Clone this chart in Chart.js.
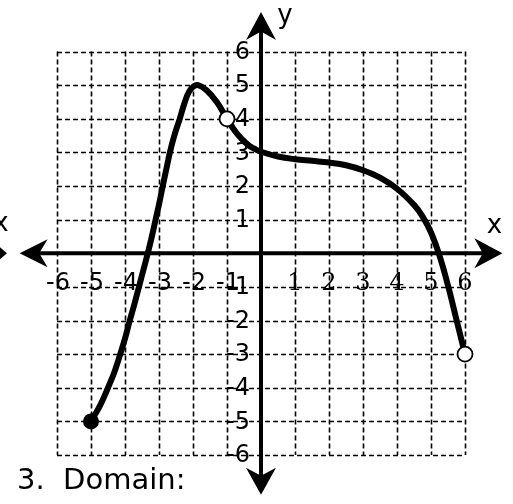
<!DOCTYPE html>
<html>
<head>
<meta charset="utf-8">
<script src="https://cdn.jsdelivr.net/npm/chart.js@4.4.0/dist/chart.umd.min.js"></script>
<style>
  html, body { margin: 0; padding: 0; background: #fff; }
  #graph { display: block; }
</style>
</head>
<body>
<canvas id="graph" width="513" height="504"></canvas>
<script>
// Values
const gridValues = [-6, -5, -4, -3, -2, -1, 0, 1, 2, 3, 4, 5, 6];
const xTickLabels = [-6, -5, -4, -3, -2, -1, 1, 2, 3, 4, 5, 6];
const yTickLabels = [-6, -5, -4, -3, -2, -1, 1, 2, 3, 4, 5, 6];

const curveX = [-5, -4.72, -4.5, -4.3, -4.14, -3.99, -3.86, -3.72, -3.59, -3.46, -3.33, -3.21, -3.1, -2.99,
    -2.89, -2.785, -2.68, -2.55, -2.39, -2.24, -2.12, -2.0, -1.85, -1.6, -1.3, -1.0, -0.7, -0.4, -0.2,
    0, 0.5, 1, 1.5, 2, 2.5, 3, 3.5, 4, 4.5, 4.75, 5, 5.25, 5.5, 5.75, 6];
const curveY = [-5, -4.5, -4, -3.5, -3, -2.5, -2, -1.5, -1, -0.5, 0, 0.5, 1, 1.5,
    2, 2.5, 3, 3.5, 4, 4.5, 4.8, 4.95, 5.0, 4.85, 4.5, 4.0, 3.55, 3.24, 3.11,
    3.02, 2.88, 2.8, 2.75, 2.7, 2.62, 2.47, 2.25, 1.92, 1.44, 1.1, 0.62, -0.07, -0.96, -1.98, -3];

const closedX = [-5];
const closedY = [-5];
const openX = [-1, 6];
const openY = [4, -3];

// axis extents (arrow tips)
const xRange = [-7.1, 7.1];
const yRange = [-7.18, 7.18];

const toPoints = (xs, ys) => xs.map((x, i) => ({ x: x, y: ys[i] }));

function arrowHead(ctx, tipX, tipY, dirX, dirY, len, half) {
    const px = -dirY, py = dirX;
    const bx = tipX - dirX * len, by = tipY - dirY * len;
    const nx = tipX - dirX * len * 0.7, ny = tipY - dirY * len * 0.7;
    ctx.beginPath();
    ctx.moveTo(tipX, tipY);
    ctx.lineTo(bx + px * half, by + py * half);
    ctx.lineTo(nx, ny);
    ctx.lineTo(bx - px * half, by - py * half);
    ctx.closePath();
    ctx.fill();
}

// Dashed grid, axes with arrows, tick labels
const gridPlugin = {
    id: "graphPaper",
    beforeDatasetsDraw(chart) {
        const ctx = chart.ctx;
        const xs = chart.scales.x, ys = chart.scales.y;
        const gMin = gridValues[0], gMax = gridValues[gridValues.length - 1];

        ctx.save();
        ctx.strokeStyle = "#000";
        ctx.lineWidth = 1.6;
        ctx.setLineDash([5, 3]);
        for (const v of gridValues) {
            const px = Math.round(xs.getPixelForValue(v)) + 0.5;
            ctx.beginPath();
            ctx.moveTo(px, ys.getPixelForValue(gMax));
            ctx.lineTo(px, ys.getPixelForValue(gMin));
            ctx.stroke();
            const py = Math.round(ys.getPixelForValue(v)) + 0.5;
            ctx.beginPath();
            ctx.moveTo(xs.getPixelForValue(gMin), py);
            ctx.lineTo(xs.getPixelForValue(gMax), py);
            ctx.stroke();
        }
        ctx.setLineDash([]);

        // axes
        const x0 = xs.getPixelForValue(0), y0 = ys.getPixelForValue(0);
        const left = xs.getPixelForValue(xRange[0]), right = xs.getPixelForValue(xRange[1]);
        const top = ys.getPixelForValue(yRange[1]), bottom = ys.getPixelForValue(yRange[0]);
        ctx.lineWidth = 4;
        ctx.beginPath();
        ctx.moveTo(left + 12, y0);
        ctx.lineTo(right - 12, y0);
        ctx.moveTo(x0, top + 12);
        ctx.lineTo(x0, bottom - 12);
        ctx.stroke();
        ctx.fillStyle = "#000";
        arrowHead(ctx, left, y0, -1, 0, 28, 14);
        arrowHead(ctx, right, y0, 1, 0, 28, 15);
        arrowHead(ctx, x0, top, 0, -1, 28, 15);
        arrowHead(ctx, x0, bottom, 0, 1, 27, 15);

        // tick labels
        ctx.textBaseline = "middle";
        ctx.textAlign = "center";
        for (const v of xTickLabels) {
            ctx.font = v > 0 ? "24px 'DejaVu Serif'" : "24px 'DejaVu Sans'";
            ctx.fillText(String(v), xs.getPixelForValue(v) + (v < 0 ? 1 : 0), y0 + 30);
        }
        ctx.textAlign = "right";
        ctx.font = "24px 'DejaVu Sans'";
        for (const v of yTickLabels) {
            ctx.fillText(String(v), x0 - 11, ys.getPixelForValue(v) + 1);
        }

        // axis names
        ctx.textAlign = "center";
        ctx.font = "26px 'DejaVu Sans'";
        ctx.fillText("x", right - 8, y0 - 27);
        ctx.fillText("y", x0 + 24, top + 4);
        ctx.fillText("x", 1, y0 - 29);
        ctx.restore();
    },
    afterDraw(chart) {
        const ctx = chart.ctx;
        const ys = chart.scales.y;
        const y0 = ys.getPixelForValue(0);
        ctx.save();
        // tip of the neighbouring graph's arrow at the left edge
        ctx.fillStyle = "#000";
        ctx.beginPath();
        ctx.moveTo(0, y0 - 6);
        ctx.lineTo(7, y0);
        ctx.lineTo(0, y0 + 6);
        ctx.closePath();
        ctx.fill();
        // question text
        ctx.font = "29px 'DejaVu Sans'";
        ctx.textBaseline = "middle";
        ctx.textAlign = "left";
        ctx.fillText("3.  Domain:", 17, 481);
        ctx.restore();
    }
};

new Chart(document.getElementById("graph"), {
    type: "scatter",
    data: {
        datasets: [
            {
                data: toPoints(curveX, curveY),
                showLine: true,
                borderColor: "#000",
                borderWidth: 6,
                pointRadius: 0,
                tension: 0.4,
                borderCapStyle: "round",
                borderJoinStyle: "round",
                order: 2
            },
            {
                data: toPoints(closedX, closedY),
                pointRadius: 8,
                pointBackgroundColor: "#000",
                pointBorderColor: "#000",
                pointBorderWidth: 0,
                order: 1
            },
            {
                data: toPoints(openX, openY),
                pointRadius: 7.5,
                pointBackgroundColor: "#fff",
                pointBorderColor: "#000",
                pointBorderWidth: 1.8,
                order: 0
            }
        ]
    },
    options: {
        responsive: false,
        animation: false,
        layout: { padding: { left: 19.6, right: 10.6, top: 11.9, bottom: 3.9 } },
        plugins: {
            legend: { display: false },
            tooltip: { enabled: false }
        },
        scales: {
            x: { type: "linear", min: xRange[0], max: xRange[1], display: false },
            y: { type: "linear", min: yRange[0], max: yRange[1], display: false }
        }
    },
    plugins: [gridPlugin]
});
</script>
</body>
</html>
